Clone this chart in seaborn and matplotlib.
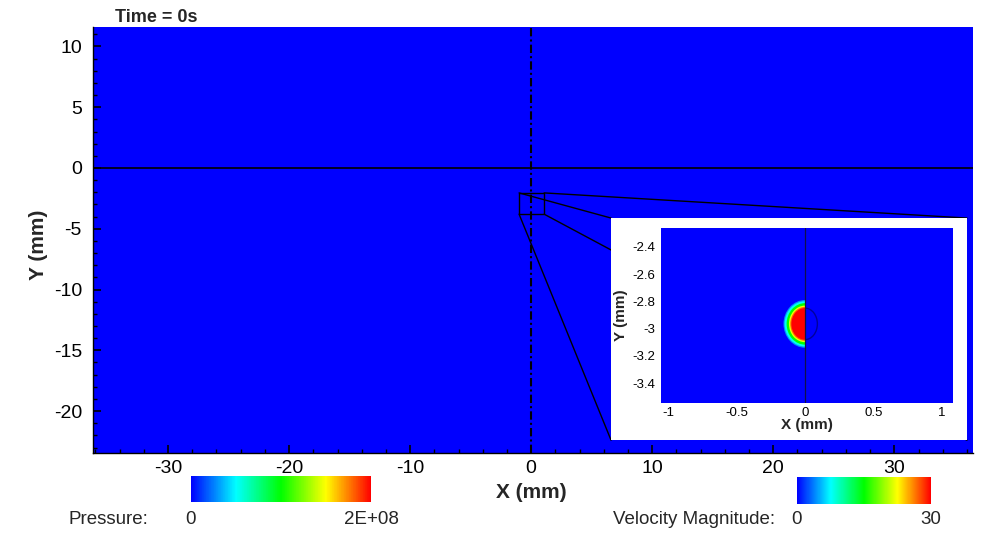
import numpy as np
import matplotlib
matplotlib.use("Agg")
import matplotlib.pyplot as plt
from matplotlib.patches import Rectangle, Ellipse, Arc
from matplotlib.ticker import MultipleLocator
from matplotlib.colors import Normalize
from matplotlib.cm import ScalarMappable
import seaborn as sns

# main domain (mm) and pressure field at t = 0
domain_x = [-36.2, 36.5]
domain_y = [-23.45, 11.6]
pressure_field = [[0.0]]
pressure_range = [0, 2e8]

# zoomed window (mm) and velocity field
zoom_x = [-1.054, 1.08]
zoom_y = [-3.542, -2.263]
velocity_background = [[0.0]]
velocity_range = [0, 30]

# droplet: half-ellipse rings, outer to inner
drop_center = [0.0, -2.965]
ring_velocity = [4, 8, 15, 22, 27, 30]
ring_rx = [0.158, 0.150, 0.135, 0.118, 0.108, 0.100]
ring_ry = [0.175, 0.166, 0.152, 0.134, 0.124, 0.116]
shadow_rx, shadow_ry = 0.09, 0.115

# zoom marker on main plot and frame of the inset (main-axes mm)
zoom_box_x = [-1.0, 1.07]
zoom_box_y = [-3.8, -2.05]
frame_x = [6.6, 36.0]
frame_y = [-22.4, -4.12]

x_ticks = [-30, -20, -10, 0, 10, 20, 30]
y_ticks = [-20, -15, -10, -5, 0, 5, 10]
inset_x_ticks = [-1, -0.5, 0, 0.5, 1]
inset_x_labels = ["-1", "-0.5", "0", "0.5", "1"]
inset_y_ticks = [-3.4, -3.2, -3.0, -2.8, -2.6, -2.4]
inset_y_labels = ["-3.4", "-3.2", "-3", "-2.8", "-2.6", "-2.4"]

sns.set_theme(style="white")
plt.rcParams['font.family'] = ['Liberation Sans', 'DejaVu Sans']
plt.rcParams['axes.unicode_minus'] = False

cmap = sns.blend_palette(["#0000ff", "#00ffff", "#00ff00", "#ffff00", "#ff0000"], as_cmap=True)
p_norm = Normalize(*pressure_range)
v_norm = Normalize(*velocity_range)

W, H = 1001, 533
fig = plt.figure(figsize=(W / 100, H / 100), dpi=100)

# main plot
ax = fig.add_axes([93 / W, 1 - 453 / H, 880 / W, 426 / H])
ax.set_axisbelow(False)
ax.pcolormesh(domain_x, domain_y, pressure_field, cmap=cmap, norm=p_norm, shading='flat')
ax.set_xlim(domain_x)
ax.set_ylim(domain_y)
ax.axvline(0, color='black', lw=1.5, linestyle=(0, (4, 1.5, 1, 1.5)), zorder=2)
ax.axhline(0, color='black', lw=1.2, zorder=2)
ax.set_xticks(x_ticks)
ax.set_yticks(y_ticks)
ax.xaxis.set_minor_locator(MultipleLocator(2))
ax.yaxis.set_minor_locator(MultipleLocator(1))
ax.tick_params(which='both', direction='in', color='black', top=False, right=False,
               bottom=True, left=True, labelsize=14, labelcolor='black')
ax.tick_params(which='major', length=6, width=1.2)
ax.tick_params(which='minor', length=3, width=1)
ax.tick_params(axis='y', pad=8)
ax.tick_params(axis='x', pad=5)
sns.despine(ax=ax)
for s in ['left', 'bottom']:
    ax.spines[s].set_color('black')
    ax.spines[s].set_linewidth(1)

# zoom marker, connector lines and white inset frame
ax.add_patch(Rectangle((zoom_box_x[0], zoom_box_y[0]), zoom_box_x[1] - zoom_box_x[0],
                       zoom_box_y[1] - zoom_box_y[0], fill=False, ec='black', lw=1, zorder=3))
for zx, fx in zip(zoom_box_x, frame_x):
    for zy, fy in zip(zoom_box_y, frame_y):
        ax.plot([zx, fx], [zy, fy], color='black', lw=1, zorder=3)
ax.add_patch(Rectangle((frame_x[0], frame_y[0]), frame_x[1] - frame_x[0],
                       frame_y[1] - frame_y[0], fc='white', ec='none', zorder=4))

# inset
axin = fig.add_axes([661 / W, 1 - 402.7 / H, 291.7 / W, 174.7 / H])
axin.pcolormesh(zoom_x, zoom_y, velocity_background, cmap=cmap, norm=v_norm, shading='flat')
axin.set_xlim(zoom_x)
axin.set_ylim(zoom_y)
clip = Rectangle((zoom_x[0], zoom_y[0]), drop_center[0] - zoom_x[0], zoom_y[1] - zoom_y[0],
                 transform=axin.transData)
for v, rx, ry in zip(ring_velocity, ring_rx, ring_ry):
    e = Ellipse(drop_center, 2 * rx, 2 * ry, color=cmap(v_norm(v)), lw=0)
    axin.add_patch(e)
    e.set_clip_path(clip)
axin.add_patch(Arc(drop_center, 2 * shadow_rx, 2 * shadow_ry, theta1=-90, theta2=90,
                   color='#00005a', lw=1, alpha=0.6))
axin.axvline(0, color='#10104a', lw=0.9)
axin.set_xticks(inset_x_ticks, inset_x_labels)
axin.set_yticks(inset_y_ticks, inset_y_labels)
axin.tick_params(length=0, labelsize=9.5, labelcolor='black')
axin.tick_params(axis='x', pad=3)
axin.tick_params(axis='y', pad=4)
sns.despine(ax=axin, left=True, bottom=True)

# colour bars
for rect, norm in [([191 / W, 1 - 502 / H, 180 / W, 26 / H], p_norm),
                   ([797 / W, 1 - 504 / H, 134 / W, 27 / H], v_norm)]:
    cax = fig.add_axes(rect)
    cb = fig.colorbar(ScalarMappable(norm=norm, cmap=cmap), cax=cax, orientation='horizontal')
    cb.set_ticks([])
    cb.outline.set_visible(False)

# texts
fig.text(115 / W, 1 - 17 / H, 'Time = 0s', fontsize=13, fontweight='bold', va='center')
fig.text(531 / W, 1 - 493 / H, 'X (mm)', fontsize=15, fontweight='bold', ha='center', va='center')
fig.text(38 / W, 1 - 245 / H, 'Y (mm)', fontsize=15, fontweight='bold', ha='center', va='center',
         rotation=90)
fig.text(807 / W, 1 - 425 / H, 'X (mm)', fontsize=11, fontweight='bold', ha='center', va='center')
fig.text(621 / W, 1 - 315 / H, 'Y (mm)', fontsize=11, fontweight='bold', ha='center', va='center',
         rotation=90)
fig.text(68 / W, 1 - 519 / H, 'Pressure:', fontsize=13.5, va='center')
fig.text(191 / W, 1 - 519 / H, '0', fontsize=13.5, va='center', ha='center')
fig.text(371 / W, 1 - 519 / H, '2E+08', fontsize=13.5, va='center', ha='center')
fig.text(613 / W, 1 - 519 / H, 'Velocity Magnitude:', fontsize=13.5, va='center')
fig.text(797 / W, 1 - 519 / H, '0', fontsize=13.5, va='center', ha='center')
fig.text(931 / W, 1 - 519 / H, '30', fontsize=13.5, va='center', ha='center')

fig.savefig('out.png', dpi=100, facecolor='white')
